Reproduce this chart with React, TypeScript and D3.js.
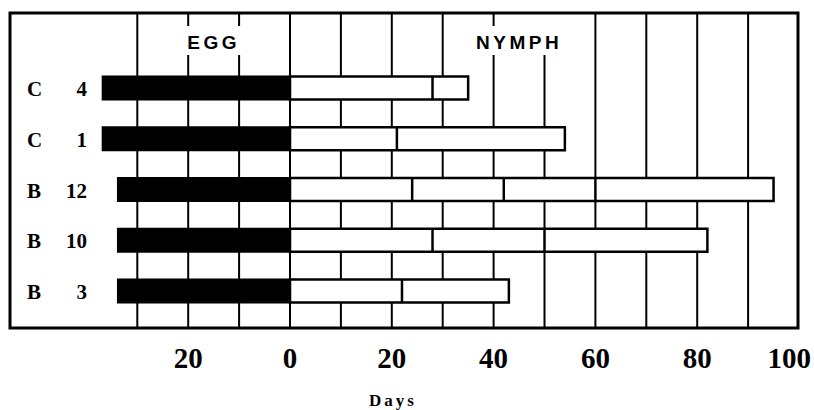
import React from "react";
import * as d3 from "d3";

const rows = ["C 4", "C 1", "B 12", "B 10", "B 3"];
const eggStart = [-37, -37, -34, -34, -34];
const nymphBounds = [
  [0, 28, 35],
  [0, 21, 54],
  [0, 24, 42, 60, 95],
  [0, 28, 50, 82],
  [0, 22, 43],
];
const gridValues = [-30, -20, -10, 0, 10, 20, 30, 40, 50, 60, 70, 80, 90];
const tickValues = [-20, 0, 20, 40, 60, 80, 100];
const stageLabels = [
  { text: "EGG", at: -15 },
  { text: "NYMPH", at: 45 },
];

const W = 814;
const H = 410;
const frame = { left: 10, top: 13, right: 798, bottom: 328 };

export default function App() {
  const x = d3.scaleLinear().domain([0, 100]).range([290, 799]);
  const y = d3.scalePoint<string>().domain(rows).range([88, 291]);
  const barH = 25;
  const serif = "'Liberation Serif', 'DejaVu Serif', serif";
  const sans = "'Liberation Sans', Arial, sans-serif";

  return (
    <svg
      width={W}
      height={H}
      style={{ position: "absolute", left: 0, top: 0, background: "#fff" }}
    >
      <rect x={0} y={0} width={W} height={H} fill="#fff" />
      {gridValues.map((v) => (
        <line
          key={v}
          x1={x(v)}
          x2={x(v)}
          y1={frame.top}
          y2={frame.bottom}
          stroke="#000"
          strokeWidth={2}
        />
      ))}
      <rect x={182} y={26} width={62} height={29} fill="#fff" />
      <rect x={488} y={26} width={62} height={29} fill="#fff" />
      <rect x={540} y={12} width={10} height={16} fill="#fff" />
      {stageLabels.map((s) => (
        <text
          key={s.text}
          x={x(s.at)}
          y={49}
          textAnchor="middle"
          fontFamily={sans}
          fontWeight="bold"
          fontSize={19}
          letterSpacing={3.5}
        >
          {s.text}
        </text>
      ))}
      {rows.map((r, i) => {
        const cy = y(r)!;
        const b = nymphBounds[i];
        const [letter, num] = r.split(" ");
        return (
          <g key={r}>
            <rect
              x={x(eggStart[i])}
              y={cy - barH / 2}
              width={x(0) - x(eggStart[i])}
              height={barH}
              fill="#000"
            />
            <rect
              x={x(b[0])}
              y={cy - barH / 2 + 1}
              width={x(b[b.length - 1]) - x(b[0])}
              height={barH - 2}
              fill="#fff"
              stroke="#000"
              strokeWidth={2.5}
            />
            {b.slice(1, -1).map((d) => (
              <line
                key={d}
                x1={x(d)}
                x2={x(d)}
                y1={cy - barH / 2 + 1}
                y2={cy + barH / 2 - 1}
                stroke="#000"
                strokeWidth={2.5}
              />
            ))}
            <text
              x={27}
              y={cy + 8}
              fontFamily={serif}
              fontWeight="bold"
              fontSize={21}
            >
              {letter}
            </text>
            <text
              x={87}
              y={cy + 8}
              textAnchor="end"
              fontFamily={serif}
              fontWeight="bold"
              fontSize={21}
            >
              {num}
            </text>
          </g>
        );
      })}
      <rect
        x={frame.left}
        y={frame.top}
        width={frame.right - frame.left}
        height={frame.bottom - frame.top}
        fill="none"
        stroke="#000"
        strokeWidth={3}
      />
      {tickValues.map((v) => (
        <text
          key={v}
          x={v === 100 ? 811 : x(v)}
          y={368}
          textAnchor={v === 100 ? "end" : "middle"}
          fontFamily={serif}
          fontWeight="bold"
          fontSize={29}
        >
          {Math.abs(v)}
        </text>
      ))}
      <text
        x={393}
        y={406}
        textAnchor="middle"
        fontFamily={serif}
        fontWeight="bold"
        fontSize={17}
        letterSpacing={3}
      >
        Days
      </text>
    </svg>
  );
}
